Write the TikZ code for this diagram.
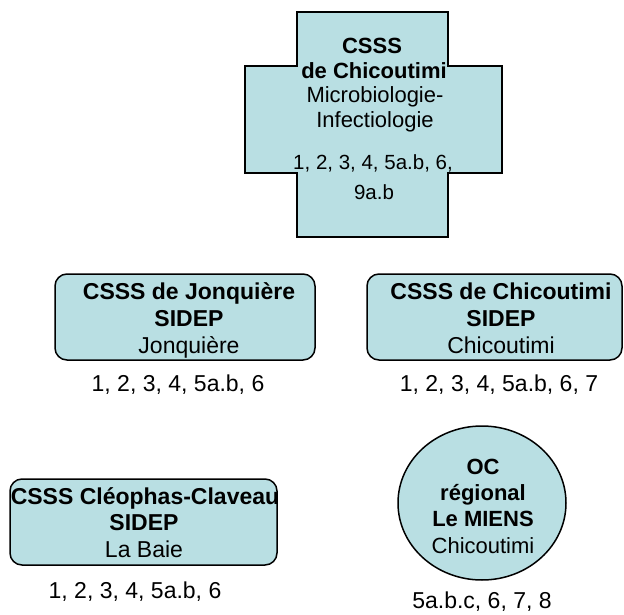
\documentclass[tikz,border=0pt]{standalone}
\usepackage{fontspec}
\setmainfont{Liberation Sans}
\usetikzlibrary{shapes.geometric}
\definecolor{boxblue}{RGB}{185,223,227}
\tikzset{
  shapefill/.style={fill=boxblue, draw=black, line width=1.5pt},
  rbox/.style={shapefill, rounded corners=12pt, inner sep=0pt},
  txt/.style={anchor=base, inner sep=0pt, font=\fontsize{23}{27}\selectfont},
  btxt/.style={anchor=base, inner sep=0pt, font=\fontsize{23}{27}\selectfont\bfseries},
  ctxt/.style={anchor=base, inner sep=0pt, font=\fontsize{22}{25}\selectfont},
  cbtxt/.style={anchor=base, inner sep=0pt, font=\fontsize{22}{25}\selectfont\bfseries},
  cntxt/.style={anchor=base, inner sep=0pt, font=\fontsize{20.5}{24}\selectfont},
  etxt/.style={anchor=base, inner sep=0pt, font=\fontsize{22}{26}\selectfont},
  ebtxt/.style={anchor=base, inner sep=0pt, font=\fontsize{22}{26}\selectfont\bfseries},
}
\begin{document}
\begin{tikzpicture}[x=1pt, y=-1pt]
\useasboundingbox[fill=white] (0,0) rectangle (624,615);

% cross
\draw[shapefill] (297,12) -- (448,12) -- (448,66) -- (502,66) -- (502,173)
  -- (448,173) -- (448,237) -- (297,237) -- (297,173) -- (245,173)
  -- (245,66) -- (297,66) -- cycle;
\node[cbtxt] (c1) at (372,54) {CSSS};
\node[cbtxt] (c2) at (374,79) {de Chicoutimi};
\node[ctxt] (c3) at (375,103) {Microbiologie-};
\node[ctxt] (c4) at (375,128) {Infectiologie};
\node[cntxt] (c5) at (373,170) {1, 2, 3, 4, 5a.b, 6,};
\node[cntxt] (c6) at (374,200) {9a.b};

% Jonquiere
\node[rbox, minimum width=260pt, minimum height=86pt] (jonq) at (185,317) {};
\node[btxt] (j1) at (189,299) {CSSS de Jonquière};
\node[btxt] (j2) at (189,326) {SIDEP};
\node[txt] (j3) at (189,353) {Jonquière};
\node[txt] (jn) at (178,391) {1, 2, 3, 4, 5a.b, 6};

% Chicoutimi SIDEP
\node[rbox, minimum width=255pt, minimum height=86pt] (chic) at (494.5,317) {};
\node[btxt] (k1) at (501,299) {CSSS de Chicoutimi};
\node[btxt] (k2) at (501,326) {SIDEP};
\node[txt] (k3) at (501,353) {Chicoutimi};
\node[txt] (kn) at (499,391) {1, 2, 3, 4, 5a.b, 6, 7};

% La Baie
\node[rbox, minimum width=267pt, minimum height=86pt] (baie) at (143.5,522) {};
\node[btxt] (b1) at (145,504) {CSSS Cléophas-Claveau};
\node[btxt] (b2) at (144,530) {SIDEP};
\node[txt] (b3) at (144,557) {La Baie};
\node[txt] (bn) at (135,598) {1, 2, 3, 4, 5a.b, 6};

% MIENS ellipse
\node[ellipse, shapefill, inner sep=0pt, minimum width=168pt, minimum height=154pt] (miens) at (482,503) {};
\node[ebtxt] (m1) at (483,474) {OC};
\node[ebtxt] (m2) at (483,500) {régional};
\node[ebtxt] (m3) at (483,526) {Le MIENS};
\node[etxt] (m4) at (483,553) {Chicoutimi};
\node[txt] (mn) at (482,608) {5a.b.c, 6, 7, 8};
\end{tikzpicture}
\end{document}
